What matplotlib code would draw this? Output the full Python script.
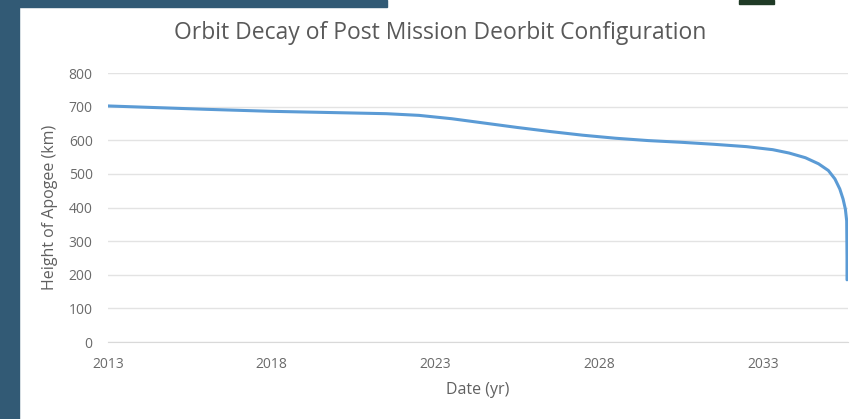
import matplotlib.pyplot as plt
from matplotlib.patches import Rectangle

# apogee height over time after the deorbit burn
years = [2013.0, 2014.5, 2016.0, 2018.0, 2020.0, 2021.5, 2022.5, 2023.5, 2024.5,
         2025.5, 2026.5, 2027.5, 2028.5, 2029.5, 2030.5, 2031.5, 2032.5, 2033.3,
         2033.8, 2034.3, 2034.7, 2035.0, 2035.2, 2035.35, 2035.45, 2035.52,
         2035.56, 2035.57, 2035.57]
apogee_km = [702, 697, 692, 686, 682, 679, 674, 664, 651,
             638, 626, 615, 606, 599, 594, 588, 581, 572,
             562, 548, 530, 510, 485, 455, 425, 395,
             360, 250, 185]

xticks = [2013, 2018, 2023, 2028, 2033]
yticks = [0, 100, 200, 300, 400, 500, 600, 700, 800]

plt.rcParams['font.family'] = ['Open Sans', 'DejaVu Sans']

fig = plt.figure(figsize=(8.64, 4.19), dpi=100)
fig.patch.set_facecolor('white')

# slide frame around the chart
band = '#325a75'
fig.patches.append(Rectangle((0, 0), 19 / 864, 1, transform=fig.transFigure,
                             color=band, zorder=0))
fig.patches.append(Rectangle((0, 1 - 7 / 419), 387 / 864, 7 / 419,
                             transform=fig.transFigure, color=band, zorder=0))
fig.patches.append(Rectangle((739 / 864, 1 - 4 / 419), 35 / 864, 4 / 419,
                             transform=fig.transFigure, color='#1f3a26', zorder=0))

ax = fig.add_axes([108 / 864, 1 - 342 / 419, 740 / 864, 269 / 419])
ax.plot(years, apogee_km, color='#5b9bd5', lw=2.2, solid_capstyle='round')

ax.set_xlim(2013, 2035.6)
ax.set_ylim(0, 800)
ax.set_xticks(xticks)
ax.set_yticks(yticks)
ax.grid(axis='y', color='#e3e3e3', lw=1)
ax.set_axisbelow(True)
for side in ['top', 'right', 'left']:
    ax.spines[side].set_visible(False)
ax.spines['bottom'].set_color('#d9d9d9')
ax.tick_params(length=0, labelsize=10, labelcolor='#6a6a6a', pad=11)

ax.set_xlabel('Date (yr)', fontsize=11.5, color='#606060', labelpad=7)
ax.set_ylabel('Height of Apogee (km)', fontsize=11.5, color='#606060', labelpad=8)
fig.text(440 / 864, 1 - 33 / 419, 'Orbit Decay of Post Mission Deorbit Configuration',
         ha='center', va='center', fontsize=16.5, color='#595959')

fig.savefig('out.png', dpi=100)
